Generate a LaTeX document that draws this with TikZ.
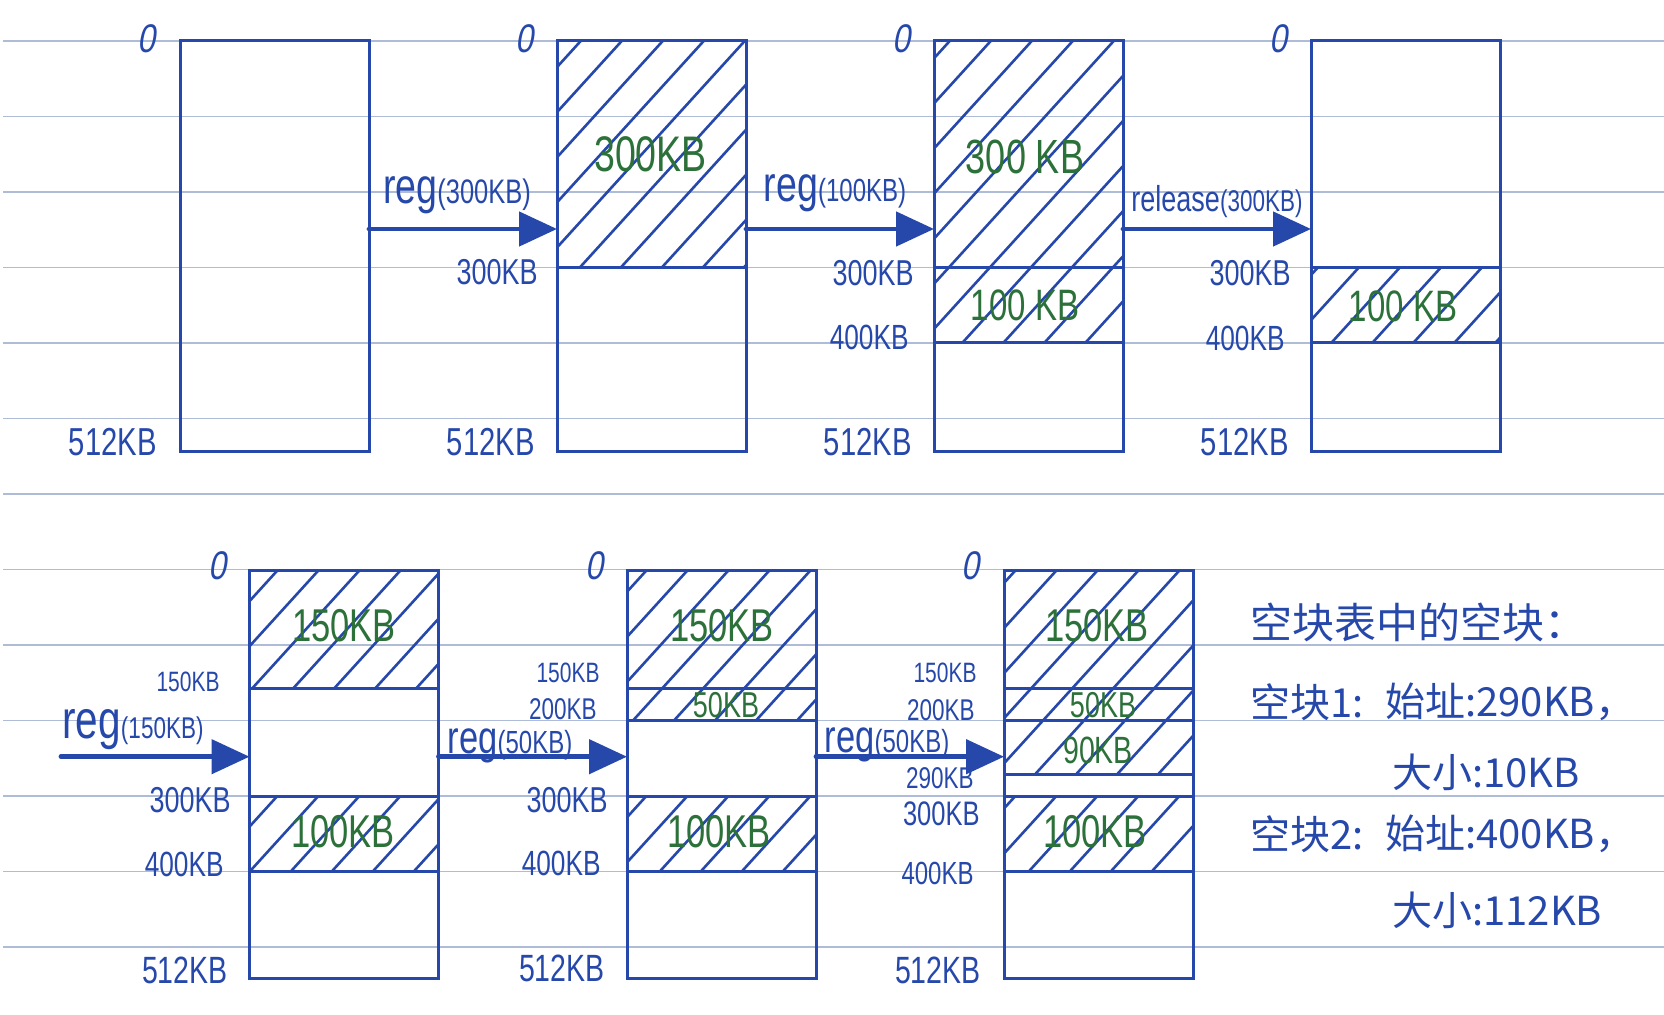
\documentclass[tikz,border=0pt]{standalone}
\usepackage{fontspec}
\setmainfont{Liberation Sans}[FakeStretch=0.75]
\newfontfamily\slfont{Liberation Sans}[FakeStretch=0.8,FakeSlant=0.18]
\newfontfamily\cjk{Noto Sans CJK SC}
\usetikzlibrary{arrows.meta}
\definecolor{ink}{RGB}{38,72,170}
\definecolor{grn}{RGB}{44,112,58}
\definecolor{rulec}{RGB}{174,188,216}
\newcommand\fsz[1]{\fontsize{#1pt}{#1pt}\selectfont}
% #1 x-left, #2 y-top, #3 x-right, #4 y-bottom, #5 phase
\newcommand\hatchregion[5]{%
  \begin{scope}
    \clip (#1,#2) rectangle (#3,#4);
    \pgfmathtruncatemacro\kmin{(#1+#2/1.1-#5)/41-1}
    \pgfmathtruncatemacro\kmax{(#3+#4/1.1-#5)/41+2}
    \foreach \k in {\kmin,...,\kmax}{
      \draw[hatchln] ({41*\k+#5-(#4+6)/1.1},{#4+6}) -- ({41*\k+#5-(#2-6)/1.1},{#2-6});
    }
  \end{scope}}
\begin{document}
\begin{tikzpicture}[x=0.5pt,y=-0.5pt,
  membox/.style={draw=ink, line width=1.5pt, rectangle, inner sep=0pt, outer sep=0pt, anchor=north west, minimum width=94.5pt},
  toprow/.style={membox, minimum height=205.5pt},
  botrow/.style={membox, minimum height=204pt},
  divline/.style={draw=ink, line width=1.5pt},
  hatchln/.style={draw=ink, line width=1.3pt},
  ruleln/.style={draw=rulec, line width=0.9pt},
  flow/.style={draw=ink, line width=2.4pt, line cap=round, -{Triangle[length=19pt,width=17pt]}},
  lab/.style={text=ink, inner sep=0pt},
  zlab/.style={text=ink, inner sep=0pt, font=\slfont\fsz{20}},
  glab/.style={text=grn, inner sep=0pt},
  cn/.style={text=ink, inner sep=0pt, anchor=west, font=\cjk\fsz{20}},
]
\useasboundingbox (0,0) rectangle (1664,1015);
\fill[white] (0,0) rectangle (1664,1015);
% ruled paper
\foreach \r in {0,...,12}{
  \draw[ruleln] (3,{41+75.5*\r}) -- (1664,{41+75.5*\r});
}
% hatching
\hatchregion{557}{41}{746}{267.5}{3}
\hatchregion{934}{41}{1123}{267.5}{3}
\hatchregion{934}{267.5}{1123}{343}{3}
\hatchregion{1311}{267.5}{1500}{343}{3}
\hatchregion{249.5}{570}{438.5}{688}{17}
\hatchregion{249.5}{796}{438.5}{871.5}{17}
\hatchregion{627}{570}{816}{688}{17}
\hatchregion{627}{688}{816}{720.5}{17}
\hatchregion{627}{796}{816}{871.5}{17}
\hatchregion{1004}{570}{1193}{688}{17}
\hatchregion{1004}{688}{1193}{720.5}{17}
\hatchregion{1004}{720.5}{1193}{774}{17}
\hatchregion{1004}{796}{1193}{871.5}{17}
% boxes
\node[toprow] (b1) at (180,41) {};
\node[toprow] (b2) at (557,41) {};
\node[toprow] (b3) at (934,41) {};
\node[toprow] (b4) at (1311,41) {};
\node[botrow] (b5) at (249.5,570) {};
\node[botrow] (b6) at (627,570) {};
\node[botrow] (b7) at (1004,570) {};
% dividers
\draw[divline] (557,267.5) -- (746,267.5);
\draw[divline] (934,267.5) -- (1123,267.5);
\draw[divline] (934,343) -- (1123,343);
\draw[divline] (1311,267.5) -- (1500,267.5);
\draw[divline] (1311,343) -- (1500,343);
\foreach \yy in {688,796,871.5}{\draw[divline] (249.5,\yy) -- (438.5,\yy);}
\foreach \yy in {688,720.5,796,871.5}{\draw[divline] (627,\yy) -- (816,\yy);}
\foreach \yy in {688,720.5,774,796,871.5}{\draw[divline] (1004,\yy) -- (1193,\yy);}
% top row address labels
\node[zlab] (z1) at (146,39) {0};
\node[zlab] (z2) at (524,39) {0};
\node[zlab] (z3) at (901,39) {0};
\node[zlab] (z4) at (1278,39) {0};
\node[lab,font=\fsz{18},anchor=east] (t2a) at (538,272) {300KB};
\node[lab,font=\fsz{18},anchor=east] (t3a) at (914,273) {300KB};
\node[lab,font=\fsz{18},anchor=east] (t4a) at (1291,273) {300KB};
\node[lab,font=\fsz{17.5},anchor=east] (t3b) at (909,337) {400KB};
\node[lab,font=\fsz{17.5},anchor=east] (t4b) at (1285,338) {400KB};
\node[lab,font=\fsz{19.5},anchor=east] (e1) at (157,442) {512KB};
\node[lab,font=\fsz{19.5},anchor=east] (e2) at (535,442) {512KB};
\node[lab,font=\fsz{19.5},anchor=east] (e3) at (912,442) {512KB};
\node[lab,font=\fsz{19.5},anchor=east] (e4) at (1289,442) {512KB};
% top row block labels
\node[glab,font=\fsz{25}] (g2a) at (650.5,154) {300KB};
\node[glab,font=\fsz{24}] (g3a) at (1025,157) {300 KB};
\node[glab,font=\fsz{22}] (g3b) at (1025,305) {100 KB};
\node[glab,font=\fsz{22}] (g4b) at (1403,306) {100 KB};
% bottom row address labels
\node[zlab] (z5) at (217,566) {0};
\node[zlab] (z6) at (594,566) {0};
\node[zlab] (z7) at (970,566) {0};
\node[lab,font=\fsz{14},anchor=east] (p5a) at (220,682) {150KB};
\node[lab,font=\fsz{18},anchor=east] (p5c) at (231,800) {300KB};
\node[lab,font=\fsz{17.5},anchor=east] (p5d) at (224,864) {400KB};
\node[lab,font=\fsz{19},anchor=east] (p5e) at (228,970) {512KB};
\node[lab,font=\fsz{14},anchor=east] (p6a) at (600,673) {150KB};
\node[lab,font=\fsz{15},anchor=east] (p6b) at (597,709) {200KB};
\node[lab,font=\fsz{18},anchor=east] (p6c) at (608,800) {300KB};
\node[lab,font=\fsz{17.5},anchor=east] (p6d) at (601,863) {400KB};
\node[lab,font=\fsz{19},anchor=east] (p6e) at (605,968) {512KB};
\node[lab,font=\fsz{14},anchor=east] (p7a) at (977,672.5) {150KB};
\node[lab,font=\fsz{15},anchor=east] (p7b) at (975,710.5) {200KB};
\node[lab,font=\fsz{15},anchor=east] (p7f) at (974,778) {290KB};
\node[lab,font=\fsz{17},anchor=east] (p7c) at (980,814) {300KB};
\node[lab,font=\fsz{16},anchor=east] (p7d) at (974,873) {400KB};
\node[lab,font=\fsz{19},anchor=east] (p7e) at (981,970) {512KB};
% bottom row block labels
\node[glab,font=\fsz{23}] (g5a) at (344,626) {150KB};
\node[glab,font=\fsz{23}] (g5b) at (343,832) {100KB};
\node[glab,font=\fsz{23}] (g6a) at (722,626) {150KB};
\node[glab,font=\fsz{18}] (g6b) at (726,705) {50KB};
\node[glab,font=\fsz{23}] (g6c) at (719,832) {100KB};
\node[glab,font=\fsz{23}] (g7a) at (1097,626) {150KB};
\node[glab,font=\fsz{18}] (g7b) at (1103,705) {50KB};
\node[glab,font=\fsz{19}] (g7c) at (1098,750) {90KB};
\node[glab,font=\fsz{23}] (g7d) at (1095,832) {100KB};
% operation labels
\node[lab,anchor=base] (o1) at (457,204) {{\fsz{25}reg}{\fsz{17}(300KB)}};
\node[lab,anchor=base] (o2) at (835,202) {{\fsz{25}reg}{\fsz{16}(100KB)}};
\node[lab,anchor=base] (o3) at (1217,212) {{\fsz{18}release}{\fsz{15}(300KB)}};
\node[lab,anchor=base] (o4) at (133,738) {{\fsz{27}reg}{\fsz{15}(150KB)}};
\node[lab,anchor=base] (o5) at (510,753) {{\fsz{23}reg}{\fsz{16}(50KB)}};
\node[lab,anchor=base] (o6) at (887,752) {{\fsz{23}reg}{\fsz{16}(50KB)}};
% arrows
\coordinate (ytop) at (0,229);
\coordinate (s5) at (61,756.7);
\draw[flow] (b1.east |- ytop) -- (b2.west |- ytop);
\draw[flow] (b2.east |- ytop) -- (b3.west |- ytop);
\draw[flow] (b3.east |- ytop) -- (b4.west |- ytop);
\draw[flow] (s5) -- (b5.west |- s5);
\draw[flow] (b5.east |- s5) -- (b6.west |- s5);
\draw[flow] (b6.east |- s5) -- (b7.west |- s5);
% free-block table
\node[cn,font=\cjk\fsz{21}] (c1) at (1250,622) {空块表中的空块：};
\node[cn] (c2a) at (1250,702) {空块1:};
\node[cn] (c2b) at (1385,702) {始址:290KB，};
\node[cn] (c3) at (1392,772) {大小:10KB};
\node[cn] (c4a) at (1250,834) {空块2:};
\node[cn] (c4b) at (1385,834) {始址:400KB，};
\node[cn] (c5) at (1392,910) {大小:112KB};
\end{tikzpicture}
\end{document}
